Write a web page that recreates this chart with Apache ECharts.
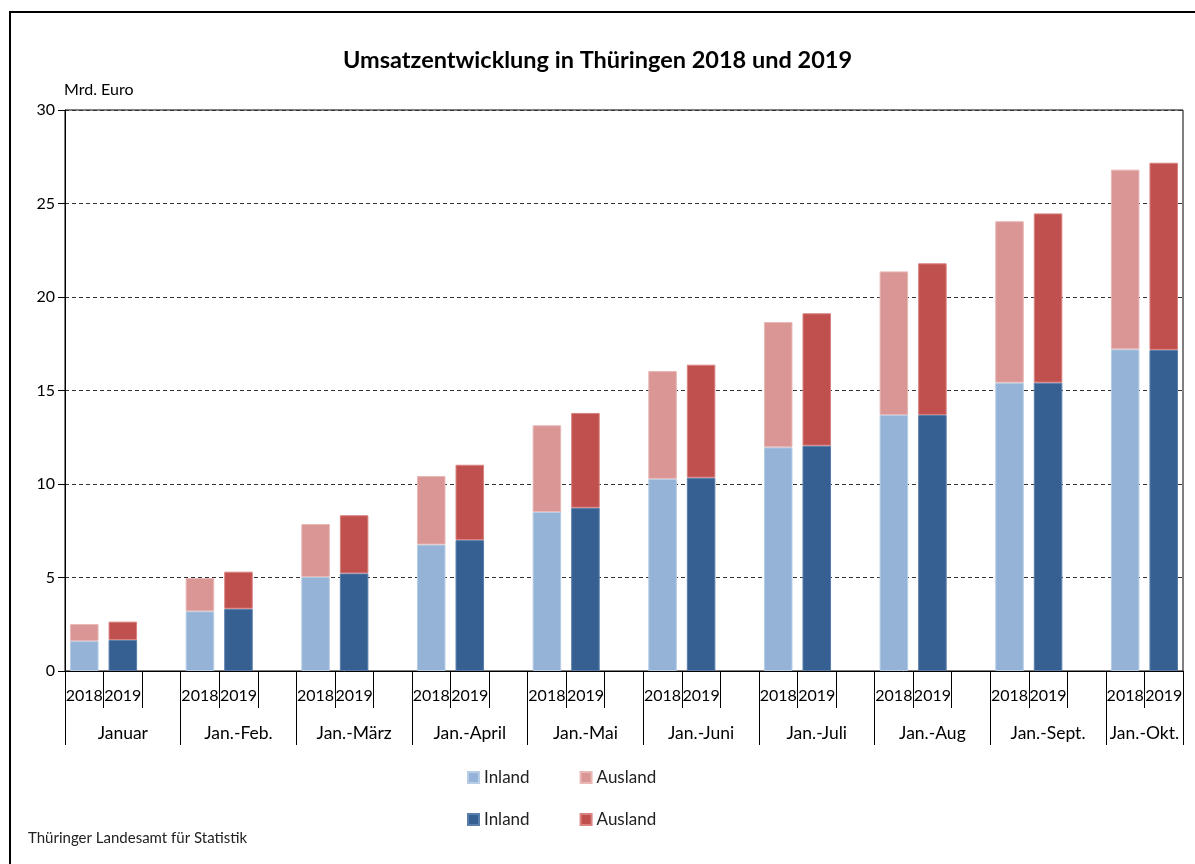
<!DOCTYPE html>
<html>
<head>
<meta charset="utf-8">
<script src="https://cdn.jsdelivr.net/npm/echarts@6/dist/echarts.min.js"></script>
<style>
html,body{margin:0;padding:0;background:#fff;}
#chart{width:1195px;height:864px;}
</style>
</head>
<body>
<div id="chart"></div>
<script>
const groups = ['Januar','Jan.-Feb.','Jan.-März','Jan.-April','Jan.-Mai','Jan.-Juni','Jan.-Juli','Jan.-Aug','Jan.-Sept.','Jan.-Okt.'];
const yearLabels = ['2018','2019'];
const inland2018  = [1.60, 3.19, 5.03, 6.76, 8.50, 10.27, 11.96, 13.69, 15.42, 17.20];
const ausland2018 = [0.91, 1.78, 2.83, 3.67, 4.64, 5.77, 6.70, 7.68, 8.63, 9.61];
const inland2019  = [1.66, 3.33, 5.22, 7.00, 8.73, 10.34, 12.05, 13.69, 15.42, 17.17];
const ausland2019 = [0.98, 1.98, 3.11, 4.03, 5.07, 6.04, 7.08, 8.11, 9.05, 10.01];
const yTicks = [0, 5, 10, 15, 20, 25, 30];

// build the slot categories: 2018, 2019, gap (no gap after last group)
const cats = [];
const s18i = [], s18a = [], s19i = [], s19a = [];
groups.forEach((g, i) => {
  cats.push(yearLabels[0]); s18i.push(inland2018[i]); s18a.push(ausland2018[i]); s19i.push('-'); s19a.push('-');
  cats.push(yearLabels[1]); s18i.push('-'); s18a.push('-'); s19i.push(inland2019[i]); s19a.push(ausland2019[i]);
  if (i < groups.length - 1) { cats.push(''); s18i.push('-'); s18a.push('-'); s19i.push('-'); s19a.push('-'); }
});
const n = cats.length;
const groupTicks = [], groupLabelPos = [];
groups.forEach((g, i) => {
  groupTicks.push(i * 3);
  groupLabelPos.push(i < groups.length - 1 ? i * 3 + 1.5 : i * 3 + 1);
});
groupTicks.push(n);

const FONT = 'Lato';
const chart = echarts.init(document.getElementById('chart'));
const barStyle = (c, b) => ({ color: c, borderColor: b, borderWidth: 1 });
chart.setOption({
  animation: false,
  textStyle: { fontFamily: FONT },
  title: {
    text: 'Umsatzentwicklung in Thüringen 2018 und 2019',
    left: 'center', top: 43,
    textStyle: { fontFamily: FONT, fontSize: 23.5, fontWeight: 'bold', color: '#000' }
  },
  graphic: [
    { type: 'rect', shape: { x: 10, y: 12, width: 1250, height: 900 }, style: { fill: 'none', stroke: '#000', lineWidth: 2 }, silent: true },
    { type: 'text', left: 28, top: 831, style: { text: 'Thüringer Landesamt für Statistik', font: '15px Lato', fill: '#222' } }
  ],
  grid: { left: 65, right: 12, top: 110, bottom: 193, show: true, borderColor: '#000', borderWidth: 1, backgroundColor: 'transparent' },
  legend: [
    { data: ['Inland 2018', 'Ausland 2018'], left: 462, top: 764, itemWidth: 11, itemHeight: 11, itemGap: 50,
      icon: 'rect', formatter: nm => nm.split(' ')[0], textStyle: { fontFamily: FONT, fontSize: 17, color: '#222' } },
    { data: ['Inland 2019', 'Ausland 2019'], left: 462, top: 806, itemWidth: 11, itemHeight: 11, itemGap: 50,
      icon: 'rect', formatter: nm => nm.split(' ')[0], textStyle: { fontFamily: FONT, fontSize: 17, color: '#222' } }
  ],
  xAxis: [
    {
      type: 'category', data: cats, boundaryGap: true, position: 'bottom',
      axisLine: { show: true, lineStyle: { color: '#000', width: 1 } },
      axisTick: { show: true, interval: 0, length: 37, lineStyle: { color: '#000' } },
      axisLabel: { interval: 0, margin: 17, fontSize: 16, color: '#000', fontFamily: FONT }
    },
    {
      type: 'value', min: 0, max: n, position: 'bottom',
      axisLine: { show: false },
      splitLine: { show: false },
      axisTick: { show: true, customValues: groupTicks, length: 74, lineStyle: { color: '#000' } },
      axisLabel: { customValues: groupLabelPos, margin: 53, fontSize: 17.5, color: '#000', fontFamily: FONT,
        formatter: v => { const i = Math.floor(v / 3); return groups[Math.min(i, groups.length - 1)]; } }
    }
  ],
  yAxis: {
    type: 'value', min: 0, max: 30, interval: 5,
    name: 'Mrd. Euro', nameLocation: 'end', nameGap: 12,
    nameTextStyle: { align: 'left', fontSize: 16, color: '#000', fontFamily: FONT, padding: [0, 0, 0, -1] },
    axisLine: { show: true, lineStyle: { color: '#000' } },
    axisTick: { show: true, length: 7, lineStyle: { color: '#000' } },
    axisLabel: { fontSize: 16, color: '#000', margin: 10, fontFamily: FONT, customValues: yTicks },
    splitLine: { show: true, lineStyle: { color: '#333', type: [4, 3], width: 1 } }
  },
  series: [
    { name: 'Inland 2018', type: 'bar', stack: 's', data: s18i, barCategoryGap: '26%', itemStyle: barStyle('#95B3D7', '#B7CDE6') },
    { name: 'Ausland 2018', type: 'bar', stack: 's', data: s18a, itemStyle: barStyle('#D99694', '#E8B7B6') },
    { name: 'Inland 2019', type: 'bar', stack: 's', data: s19i, itemStyle: barStyle('#366092', '#5A7FAA') },
    { name: 'Ausland 2019', type: 'bar', stack: 's', data: s19a, itemStyle: barStyle('#C0504D', '#D98280') }
  ]
});
</script>
</body>
</html>
